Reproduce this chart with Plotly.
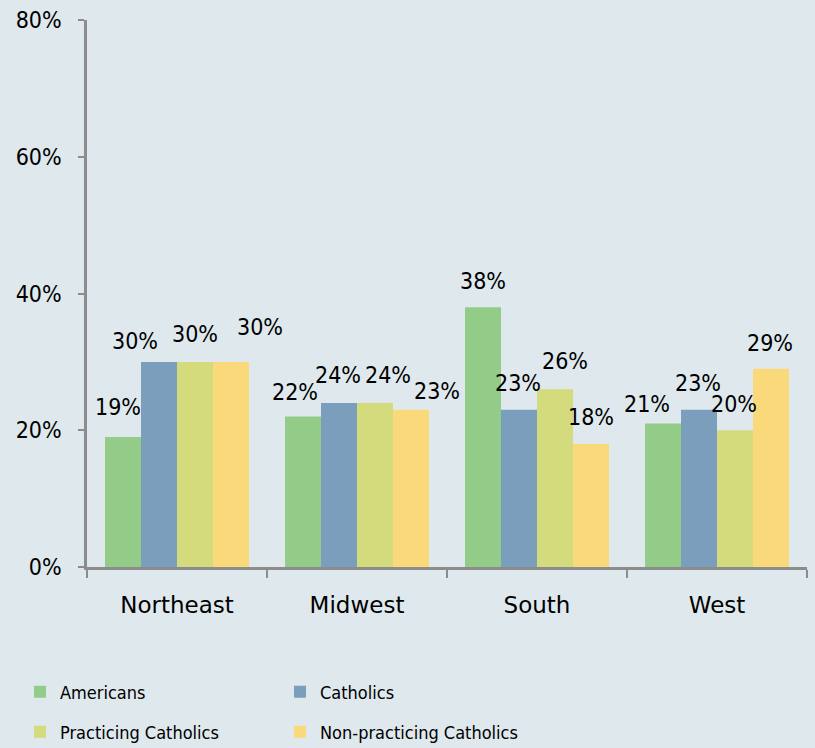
import plotly.graph_objects as go

regions = ["Northeast", "Midwest", "South", "West"]
americans = [19, 22, 38, 21]
catholics = [30, 24, 23, 23]
practicing = [30, 24, 26, 20]
non_practicing = [30, 23, 18, 29]

series = [
    ("Americans", americans, "#92cc88", "legend"),
    ("Catholics", catholics, "#7c9ebd", "legend"),
    ("Practicing Catholics", practicing, "#d4db7c", "legend2"),
    ("Non-practicing Catholics", non_practicing, "#f9d97a", "legend2"),
]

# label nudges (px) to mimic the original label placement: (dx, dy above bar top)
nudges = [
    [(-5, 30), (-8, 25), (0, 26), (-16, 19)],
    [(-24, 21), (-1, 28), (-1, 27), (-1, 27)],
    [(0, 28), (13, 28), (10, 28), (-1, 26)],
    [(29, 35), (26, 19), (0, 27), (-1, 26)],
]

narrow = "Liberation Sans Narrow, Arial Narrow, DejaVu Sans Condensed, sans-serif"

fig = go.Figure()
annotations = []
for j, (name, vals, color, leg) in enumerate(series):
    fig.add_trace(go.Bar(
        x=regions, y=vals, name=name, legend=leg,
        marker=dict(color=color, line=dict(width=0)),
    ))
    for i, v in enumerate(vals):
        dx, dy = nudges[j][i]
        annotations.append(dict(
            x=i - 0.3 + 0.2 * j, y=v, xref="x", yref="y",
            text=f"{v}%", showarrow=False,
            xshift=dx, yshift=dy, yanchor="middle",
            font=dict(family=narrow, size=23, color="#000000"),
        ))

bg = "#dfe8ed"
W, H = 815, 748
legend_style = dict(
    orientation="h", xref="container", x=20 / W, xanchor="left",
    yref="container", yanchor="middle",
    entrywidth=215, entrywidthmode="pixels",
    font=dict(family=narrow, size=18, color="#000000"),
    bgcolor="rgba(0,0,0,0)",
)
fig.update_layout(
    width=W, height=H,
    paper_bgcolor=bg, plot_bgcolor=bg,
    margin=dict(l=87, r=8, t=20, b=181),
    barmode="group", bargap=0.2, bargroupgap=0,
    annotations=annotations,
    showlegend=True,
    legend=dict(legend_style, y=1 - 692 / H),
    legend2=dict(legend_style, y=1 - 732 / H),
)
fig.update_xaxes(
    showline=True, linecolor="#8c8c8c", linewidth=2.5,
    ticks="outside", tickson="boundaries", ticklen=8, tickwidth=2, tickcolor="#8c8c8c",
    showgrid=False, automargin=False,
    ticklabelstandoff=16,
    tickfont=dict(family="DejaVu Sans", size=23, color="#000000"),
)
fig.update_yaxes(
    range=[0, 80], dtick=20, ticksuffix="%",
    showline=True, linecolor="#8c8c8c", linewidth=2.5,
    ticks="outside", ticklen=6, tickwidth=2, tickcolor="#8c8c8c",
    showgrid=False, zeroline=False, automargin=False,
    ticklabelstandoff=12,
    tickfont=dict(family=narrow, size=23, color="#000000"),
)

fig.write_html(
    "out.html",
    config={"displayModeBar": False},
    post_script="document.body.style.margin='0';document.body.style.background='%s';" % bg,
)
